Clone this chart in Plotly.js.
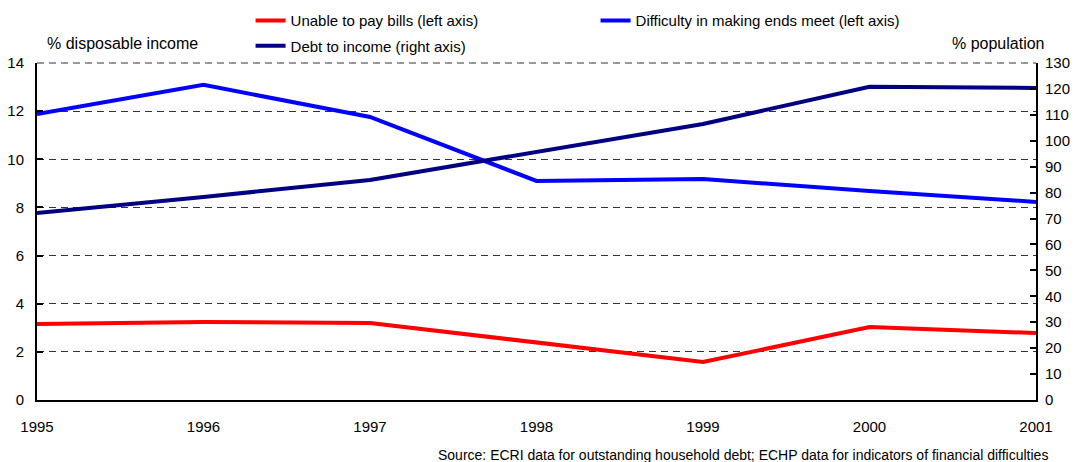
<!DOCTYPE html>
<html><head><meta charset="utf-8">
<script src="https://cdn.plot.ly/plotly-3.0.1.min.js"></script>
<style>body{margin:0;background:#fff}#chart{width:1080px;height:462px}</style>
</head><body><div id="chart"></div>
<script>
const years = [1995, 1996, 1997, 1998, 1999, 2000, 2001];
const unableToPay = [3.16, 3.24, 3.2, 2.37, 1.58, 3.03, 2.78];
const difficultyEnds = [11.88, 13.09, 11.76, 9.1, 9.18, 8.68, 8.23];
const debtToIncome = [72.1, 78.3, 84.9, 95.7, 106.5, 120.8, 120.4];
const names = ['Unable to pay bills (left axis)', 'Difficulty in making ends meet (left axis)', 'Debt to income (right axis)'];
const leftTicks = [0, 2, 4, 6, 8, 10, 12, 14];
const rightTicks = [0, 10, 20, 30, 40, 50, 60, 70, 80, 90, 100, 110, 120, 130];

const font = {family: 'Liberation Sans, Arial, sans-serif', size: 15, color: '#000'};
const titleFont = {family: font.family, size: 16, color: '#000'};
const traces = [
  {x: years, y: unableToPay, name: names[0], mode: 'lines', line: {color: '#FF0000', width: 4}, yaxis: 'y', legend: 'legend'},
  {x: years, y: difficultyEnds, name: names[1], mode: 'lines', line: {color: '#0000FF', width: 4}, yaxis: 'y', legend: 'legend'},
  {x: years, y: debtToIncome, name: names[2], mode: 'lines', line: {color: '#000080', width: 4}, yaxis: 'y2', legend: 'legend2'}
];
const layout = {
  width: 1080, height: 462,
  margin: {l: 37, r: 44, t: 63, b: 62},
  font: font,
  paper_bgcolor: '#fff', plot_bgcolor: '#fff',
  showlegend: true,
  xaxis: {range: [1995, 2001], tickvals: years, ticktext: years.map(String), showgrid: false, zeroline: false,
    showline: true, linecolor: '#000', linewidth: 2, ticks: '', ticklabelstandoff: 12, tickfont: font},
  yaxis: {range: [0, 14], tickvals: leftTicks, showgrid: true, gridcolor: '#333', griddash: '7px,5px', gridwidth: 1,
    zeroline: false, showline: true, linecolor: '#000', linewidth: 2, ticks: 'inside', ticklen: 6, tickwidth: 2,
    tickcolor: '#000', ticklabelstandoff: 8, tickfont: font},
  yaxis2: {range: [0, 130], tickvals: rightTicks, overlaying: 'y', side: 'right', showgrid: false, zeroline: false,
    showline: true, linecolor: '#000', linewidth: 2, ticks: 'inside', ticklen: 6, tickwidth: 2, tickcolor: '#000',
    ticklabelstandoff: 4, tickfont: font},
  shapes: [
    {type: 'line', xref: 'paper', yref: 'paper', x0: 0, x1: 1, y0: 1, y1: 1, layer: 'below',
      line: {color: '#333', width: 1, dash: '7px,5px'}}
  ],
  legend: {orientation: 'h', xref: 'container', yref: 'container', x: 0.232, y: 0.991, xanchor: 'left', yanchor: 'top',
    entrywidth: 300, font: font, bgcolor: 'rgba(0,0,0,0)'},
  legend2: {orientation: 'h', xref: 'container', yref: 'container', x: 0.232, y: 0.936, xanchor: 'left', yanchor: 'top',
    font: font, bgcolor: 'rgba(0,0,0,0)'},
  annotations: [
    {text: '% disposable income', xref: 'paper', yref: 'paper', x: 0.008, y: 1.059, xanchor: 'left', yanchor: 'middle', showarrow: false, font: titleFont},
    {text: '% population', xref: 'paper', yref: 'paper', x: 1.011, y: 1.059, xanchor: 'right', yanchor: 'middle', showarrow: false, font: titleFont},
    {text: 'Source: ECRI data for outstanding household debt; ECHP data for indicators of financial difficulties', xref: 'paper', yref: 'paper',
      x: 1.014, y: -0.163, xanchor: 'right', yanchor: 'middle', showarrow: false, font: {family: font.family, size: 14, color: '#000'}}
  ]
};
Plotly.newPlot('chart', traces, layout, {displayModeBar: false, staticPlot: true});
</script></body></html>
